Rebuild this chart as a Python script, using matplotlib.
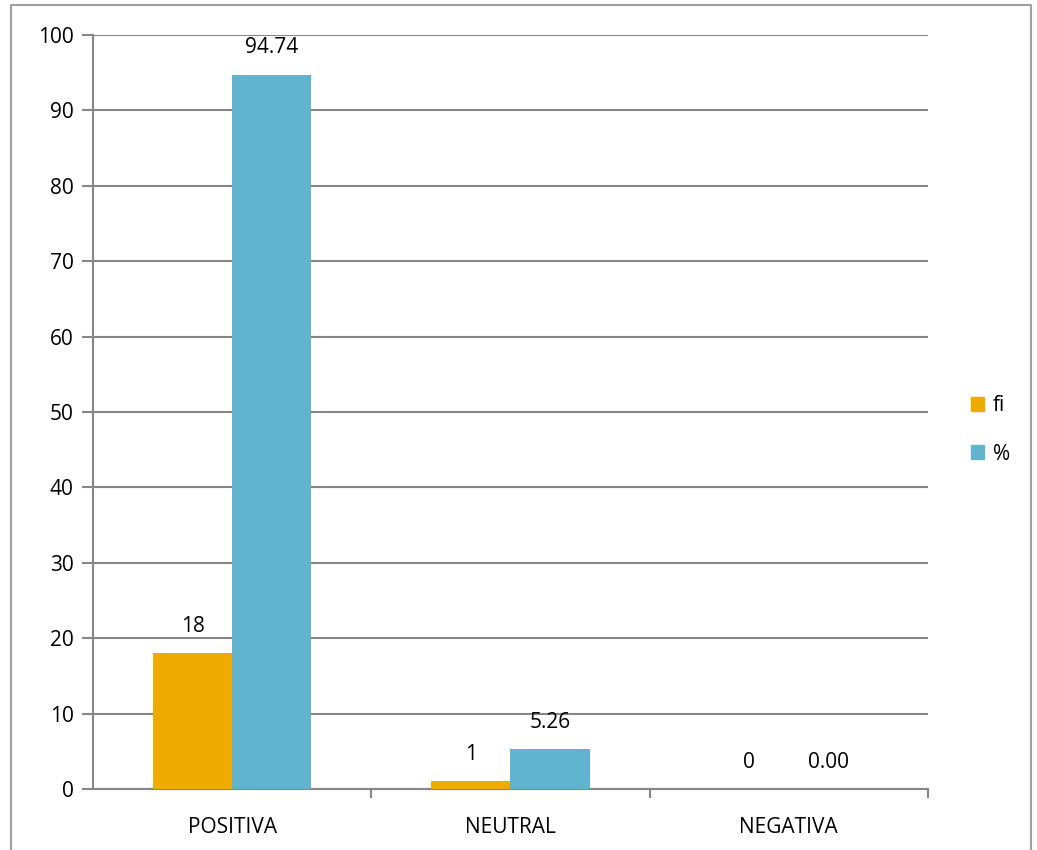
import numpy as np
import matplotlib
matplotlib.use("Agg")
import matplotlib.pyplot as plt
from matplotlib.patches import Rectangle
from matplotlib.lines import Line2D

categories = ["POSITIVA", "NEUTRAL", "NEGATIVA"]
fi_values = [18, 1, 0]
pct_values = [94.74, 5.26, 0.00]
fi_labels = ["18", "1", "0"]
pct_labels = ["94.74", "5.26", "0.00"]

orange = "#F0AB00"
blue = "#62B3CD"
grid_col = "#868686"

plt.rcParams['font.family'] = ['Open Sans', 'DejaVu Sans']

fig = plt.figure(figsize=(10.37, 8.5), dpi=100)
ax = fig.add_axes([93/1037, 61/850, (928-93)/1037, (789-35)/850])

x = np.arange(len(categories))
w = 0.284
ax.bar(x - w/2, fi_values, w, color=orange, label="fi", zorder=3)
ax.bar(x + w/2, pct_values, w, color=blue, label="%", zorder=3)

for i in range(len(categories)):
    ax.annotate(fi_labels[i], (x[i] - w/2, fi_values[i]), xytext=(0, 27),
                textcoords="offset pixels", ha="center", va="center", fontsize=15)
    ax.annotate(pct_labels[i], (x[i] + w/2, pct_values[i]), xytext=(0, 27),
                textcoords="offset pixels", ha="center", va="center", fontsize=15)

ax.set_xlim(-0.5, 2.5)
ax.set_ylim(0, 100)
ax.set_yticks(range(0, 101, 10))
ax.tick_params(axis="y", labelsize=15, length=8, width=1.5, color=grid_col, pad=6)
ax.set_xticks(x)
ax.set_xticklabels(categories, fontsize=15)
ax.tick_params(axis="x", length=0, pad=20)
# boundary ticks between categories
for b in [0.5, 1.5, 2.5]:
    ax.plot([b, b], [0, -1.1], color=grid_col, lw=1.5, clip_on=False, zorder=4)
ax.grid(axis="y", color=grid_col, lw=1.5, zorder=0)
for s in ["top", "right"]:
    ax.spines[s].set_visible(False)
for s in ["left", "bottom"]:
    ax.spines[s].set_color(grid_col)
    ax.spines[s].set_linewidth(1.5)

handles = [Rectangle((0, 0), 1, 1, color=orange), Rectangle((0, 0), 1, 1, color=blue)]
fig.legend(handles, ["fi", "%"], loc="center left", bbox_to_anchor=(952/1037, 1 - 430/850),
           frameon=False, fontsize=15, handlelength=0.65, handleheight=0.65,
           handletextpad=0.4, labelspacing=1.3)

# outer chart border
fig.add_artist(Line2D([11/1037, 11/1037, 1031/1037, 1031/1037], [0, 1 - 5/850, 1 - 5/850, 0],
                      color="#A0A0A0", lw=1.5))

fig.savefig("out.png", dpi=100)
